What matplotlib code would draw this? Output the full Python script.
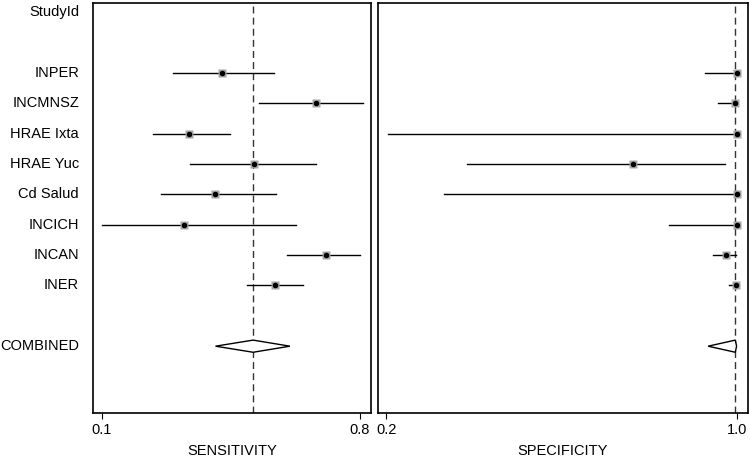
import numpy as np
import matplotlib.pyplot as plt

plt.rcParams['font.family'] = ['Liberation Sans', 'DejaVu Sans']

# ---- data ----
studies = ['INPER', 'INCMNSZ', 'HRAE Ixta', 'HRAE Yuc', 'Cd Salud',
           'INCICH', 'INCAN', 'INER']

sens = [0.425, 0.681, 0.335, 0.512, 0.407, 0.323, 0.709, 0.570]
sens_lo = [0.293, 0.527, 0.238, 0.339, 0.259, 0.101, 0.603, 0.493]
sens_hi = [0.567, 0.807, 0.447, 0.682, 0.571, 0.626, 0.800, 0.646]
sens_pooled = 0.510
sens_pooled_lo = 0.408
sens_pooled_hi = 0.610

spec = [1.000, 0.996, 1.000, 0.764, 1.000, 1.000, 0.976, 0.999]
spec_lo = [0.928, 0.958, 0.204, 0.385, 0.331, 0.846, 0.945, 0.983]
spec_hi = [1.000, 1.000, 1.000, 0.973, 1.000, 1.000, 0.998, 1.000]
spec_pooled = 0.997
spec_pooled_lo = 0.935
spec_pooled_hi = 1.000

sens_ticks = [0.1, 0.8]
spec_ticks = [0.2, 1.0]

# row layout: header row 0, studies from row 2, combined two rows after last
rows = np.arange(len(studies)) + 2
combined_row = rows[-1] + 2

fig = plt.figure(figsize=(7.5, 4.57), dpi=100, facecolor='white')
ax1 = fig.add_axes([0.124, 0.0963, 0.3707, 0.897])
ax2 = fig.add_axes([0.504, 0.0963, 0.4933, 0.897])


def forest(ax, est, lo, hi, pooled, plo, phi, ticks, xlim, label):
    for r, e, l, h in zip(rows, est, lo, hi):
        ax.plot([l, h], [r, r], color='black', lw=1.0, zorder=2)
        ax.plot(e, r, marker='s', ms=5.3, color='#a6a6a6', mec='none', zorder=3)
        ax.plot(e, r, marker='o', ms=3.0, color='black', zorder=4)
    ax.axvline(pooled, color='#333333', lw=1.0, ls=(0, (5, 3)), zorder=1)
    dx = [plo, pooled, phi, pooled, plo]
    dy = [combined_row, combined_row - 0.2, combined_row,
          combined_row + 0.2, combined_row]
    ax.fill(dx, dy, facecolor='white', edgecolor='black', lw=1.0, zorder=5)
    ax.set_xlim(*xlim)
    ax.set_ylim(13.2, -0.3)
    ax.set_xticks(ticks)
    ax.set_xticklabels([f'{t:.1f}' for t in ticks], fontsize=10.5)
    ax.set_yticks([])
    ax.tick_params(axis='x', length=4, width=0.8, pad=3)
    ax.set_xlabel(label, fontsize=10.5, labelpad=5)
    for s in ax.spines.values():
        s.set_linewidth(1.2)


forest(ax1, sens, sens_lo, sens_hi, sens_pooled, sens_pooled_lo,
       sens_pooled_hi, sens_ticks, (0.0756, 0.830), 'SENSITIVITY')
forest(ax2, spec, spec_lo, spec_hi, spec_pooled, spec_pooled_lo,
       spec_pooled_hi, spec_ticks, (0.181, 1.026), 'SPECIFICITY')

# study labels to the left of the first panel
ax1.text(-0.05, 0, 'StudyId', transform=ax1.get_yaxis_transform(),
         ha='right', va='center', fontsize=10.5)
for r, name in zip(rows, studies):
    ax1.text(-0.05, r, name, transform=ax1.get_yaxis_transform(),
             ha='right', va='center', fontsize=10.5)
ax1.text(-0.05, combined_row, 'COMBINED', transform=ax1.get_yaxis_transform(),
         ha='right', va='center', fontsize=10.5)

fig.savefig('out.png', dpi=100, facecolor='white')
